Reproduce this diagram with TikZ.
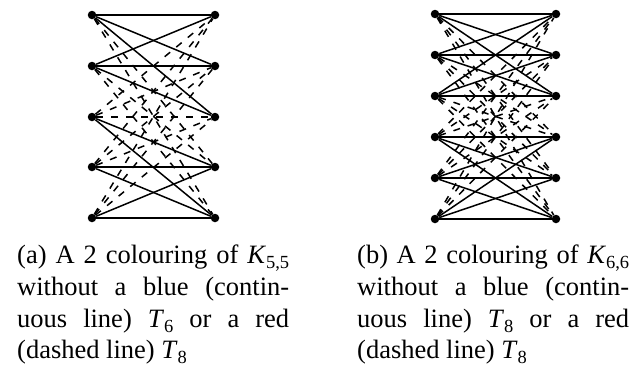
\documentclass[tikz,border=0pt]{standalone}
\usepackage{fontspec}
\setmainfont{Liberation Serif}
\newcommand{\mysub}[2]{\textit{#1}\raisebox{-0.22em}{\fontsize{18.5}{18.5}\selectfont #2}}
\begin{document}
\begin{tikzpicture}[x=1pt,y=-1pt,
  vtx/.style={circle,fill=black,inner sep=0pt,minimum size=8.5pt},
  blueedge/.style={line width=1.5pt},
  rededge/.style={line width=1.5pt,dash pattern=on 7pt off 8pt},
  captxt/.style={anchor=base west,inner sep=0pt,font=\fontsize{26.5}{31}\selectfont}]
\useasboundingbox (0,0) rectangle (634,367);
% ---------- graph (a): K_{5,5}
\foreach \i/\y in {1/15,2/66,3/117,4/167,5/218}{
  \node[vtx] (aL\i) at (92,\y) {};
  \node[vtx] (aR\i) at (215,\y) {};
}
\foreach \i in {1,2}{\foreach \j in {1,2,3}{\draw[blueedge] (aL\i)--(aR\j);}}
\foreach \i in {3,4,5}{\foreach \j in {4,5}{\draw[blueedge] (aL\i)--(aR\j);}}
\foreach \i in {1,2}{\foreach \j in {4,5}{\draw[rededge] (aL\i)--(aR\j);}}
\foreach \i in {3,4,5}{\foreach \j in {1,2,3}{\draw[rededge] (aL\i)--(aR\j);}}
% ---------- graph (b): K_{6,6}
\foreach \i/\y in {1/14,2/55,3/96,4/137,5/178,6/219}{
  \node[vtx] (bL\i) at (435,\y) {};
  \node[vtx] (bR\i) at (556,\y) {};
}
\foreach \i in {1,2,3}{\foreach \j in {1,2,3}{\draw[blueedge] (bL\i)--(bR\j);}}
\foreach \i in {4,5,6}{\foreach \j in {4,5,6}{\draw[blueedge] (bL\i)--(bR\j);}}
\foreach \i in {1,2,3}{\foreach \j in {4,5,6}{\draw[rededge] (bL\i)--(bR\j);}}
\foreach \i in {4,5,6}{\foreach \j in {1,2,3}{\draw[rededge] (bL\i)--(bR\j);}}
% ---------- captions
\node[captxt] (ca1) at (17,263) {\makebox[272pt][s]{(a) A 2 colouring of \mysub{K}{5,5}}};
\node[captxt] (ca2) at (17,295) {\makebox[272pt][s]{without a blue (contin-}};
\node[captxt] (ca3) at (17,327) {\makebox[272pt][s]{uous line) \mysub{T}{6} or a red}};
\node[captxt] (ca4) at (17,358) {(dashed line) \mysub{T}{8}};
\node[captxt] (cb1) at (357,263) {\makebox[272pt][s]{(b) A 2 colouring of \mysub{K}{6,6}}};
\node[captxt] (cb2) at (357,295) {\makebox[272pt][s]{without a blue (contin-}};
\node[captxt] (cb3) at (357,327) {\makebox[272pt][s]{uous line) \mysub{T}{8} or a red}};
\node[captxt] (cb4) at (357,358) {(dashed line) \mysub{T}{8}};
\end{tikzpicture}
\end{document}
